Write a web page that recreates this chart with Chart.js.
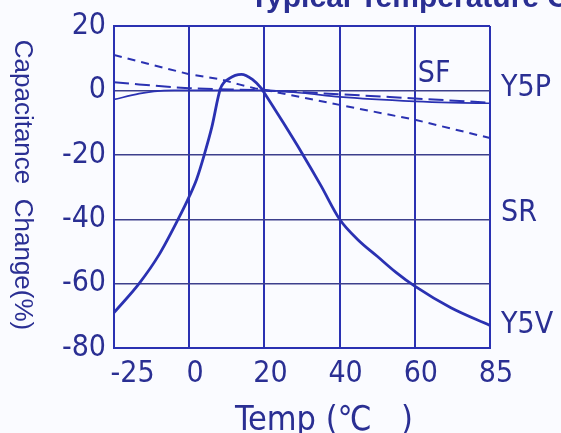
<!DOCTYPE html>
<html>
<head>
<meta charset="utf-8">
<script src="https://cdn.jsdelivr.net/npm/chart.js@4"></script>
<style>
  html, body { margin: 0; padding: 0; background: #fafbff; }
  #wrap { width: 561px; height: 433px; position: relative; }
</style>
</head>
<body>
<div id="wrap"><canvas id="c"></canvas></div>
<script>
// ---- data (temperature in °C, capacitance change in %) ----
const gridTemps = [-30, 0, 20, 40, 60, 85];          // axis edges and grid lines
const tickTemps = [-25, 0, 20, 40, 60, 85];
const tickLabels = ['-25', '0', '20', '40', '60', '85'];

const y5vTemp  = [-30, -20, -12, -4.4, 0, 2, 4, 6, 8.3, 10.7, 13.9, 16.8, 19.2, 20, 25, 30, 35, 40, 45, 50, 55, 60, 72, 85];
const y5vValue = [-69, -60, -51, -40, -33, -27.5, -20, -11.5, 0.5, 3.7, 5, 3.4, 0.6, -0.8, -10, -19.5, -29.5, -40, -46.5, -51.5, -56.5, -60.8, -67.5, -73];

const sfTemp  = [-30, -20, -14, -6, 0, 20, 30, 40, 60, 72, 85];
const sfValue = [-2.8, -1, -0.3, 0, 0, 0, -0.8, -2, -3.4, -3.8, -4];

const y5pTemp  = [-30, 0, 20, 40, 60, 85];
const y5pValue = [2.5, 0.7, 0, -1.2, -2.5, -3.8];

const srTemp  = [-30, 0, 8.5, 13.5, 17.6, 20, 40, 60, 85];
const srValue = [11, 5, 3.4, 1.8, 0.6, 0.2, -4.5, -9.1, -14.8];

const sideLabels = ['SF', 'Y5P', 'SR', 'Y5V'];
const sideLabelValues = [5, 0.8, -38, -73];

const yMin = -80, yMax = 20, yStep = 20;
const chartTitle = 'Typical Temperature Characteristics';
const xTitle = 'Temp (℃   )';
const yTitle = 'Capacitance  Change(%)';

// ---- helpers ----
function tpos(t) {
  for (let i = 0; i < gridTemps.length - 1; i++) {
    const a = gridTemps[i], b = gridTemps[i + 1];
    if (t <= b || i === gridTemps.length - 2) return i + (t - a) / (b - a);
  }
}
function pts(ts, vs) { return ts.map((t, i) => ({ x: tpos(t), y: vs[i] })); }

const BLUE = '#2a31b2';
const TEXT = '#2a2f93';
const HGRID = '#3c3f8c';
const NARROW = "'Liberation Sans Narrow', 'DejaVu Sans Condensed', 'Noto Sans CJK JP', sans-serif";
const SANS = "'Liberation Sans', Arial, 'Noto Sans CJK JP', sans-serif";

const decor = {
  id: 'decor',
  beforeDraw(chart) {
    const ctx = chart.ctx;
    ctx.save();
    ctx.fillStyle = '#fafbff';
    ctx.fillRect(0, 0, chart.width, chart.height);
    ctx.restore();
  },
  afterDraw(chart) {
    const ctx = chart.ctx, ca = chart.chartArea;
    const xs = chart.scales.x, ys = chart.scales.y;
    ctx.save();
    ctx.fillStyle = TEXT;
    // cut-off title at top
    ctx.font = "bold 30px " + SANS;
    ctx.textAlign = 'left';
    ctx.textBaseline = 'alphabetic';
    ctx.fillText(chartTitle, 250, 7);
    // x title
    ctx.font = "34px " + NARROW;
    ctx.textAlign = 'center';
    ctx.textBaseline = 'middle';
    ctx.fillText(xTitle, (ca.left + ca.right) / 2 + 22, 421);
    // y title rotated clockwise
    ctx.save();
    ctx.translate(22, 185);
    ctx.rotate(Math.PI / 2);
    ctx.font = "26px " + SANS;
    ctx.fillText(yTitle, 0, 0);
    ctx.restore();
    // side labels
    ctx.font = "30px " + NARROW;
    ctx.textAlign = 'left';
    ctx.textBaseline = 'middle';
    sideLabels.forEach((s, i) => {
      const y = ys.getPixelForValue(sideLabelValues[i]);
      const x = i === 0 ? xs.getPixelForValue(tpos(61)) : ca.right + 11;
      ctx.fillText(s, x, y);
    });
    ctx.restore();
  }
};

new Chart(document.getElementById('c'), {
  type: 'line',
  data: {
    datasets: [
      { label: 'Y5V', data: pts(y5vTemp, y5vValue), borderColor: BLUE, borderWidth: 2.8, cubicInterpolationMode: 'monotone' },
      { label: 'SF', data: pts(sfTemp, sfValue), borderColor: BLUE, borderWidth: 1.6, cubicInterpolationMode: 'monotone' },
      { label: 'Y5P', data: pts(y5pTemp, y5pValue), borderColor: BLUE, borderWidth: 2, borderDash: [15, 6], cubicInterpolationMode: 'monotone' },
      { label: 'SR', data: pts(srTemp, srValue), borderColor: BLUE, borderWidth: 2, borderDash: [8, 6] }
    ]
  },
  options: {
    responsive: true,
    maintainAspectRatio: false,
    animation: false,
    events: [],
    layout: { padding: { left: 0, top: 24, right: 71, bottom: 0 } },
    elements: { point: { radius: 0 } },
    plugins: { legend: { display: false }, tooltip: { enabled: false } },
    scales: {
      x: {
        type: 'linear', min: 0, max: gridTemps.length - 1,
        afterBuildTicks: (s) => { s.ticks = tickTemps.map(t => ({ value: tpos(t) })); },
        afterFit: (s) => { s.height = 85; },
        ticks: {
          callback: (v, i) => tickLabels[i],
          color: TEXT, font: { family: NARROW, size: 30 }, padding: 8, labelOffset: 6,
          maxRotation: 0, autoSkip: false
        },
        grid: {
          color: (c) => (c.tick && c.tick.value < 0.5) ? 'rgba(0,0,0,0)' : BLUE,
          lineWidth: 2, drawTicks: false
        },
        border: { color: BLUE, width: 2 }
      },
      y: {
        min: yMin, max: yMax,
        afterFit: (s) => { s.width = 114; },
        ticks: { stepSize: yStep, color: TEXT, font: { family: NARROW, size: 30 }, padding: 8 },
        grid: {
          color: (c) => (c.tick && c.tick.value === yMax) ? BLUE : HGRID,
          lineWidth: (c) => (c.tick && c.tick.value === yMax) ? 2 : 1.4, drawTicks: false
        },
        border: { color: BLUE, width: 2 }
      }
    }
  },
  plugins: [decor]
});
</script>
</body>
</html>
